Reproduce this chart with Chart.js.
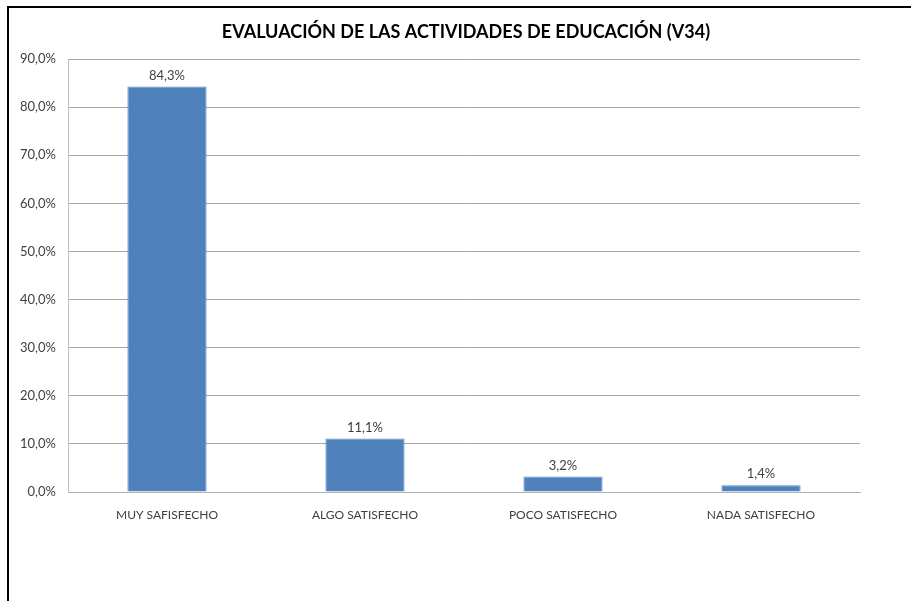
<!DOCTYPE html>
<html>
<head>
<meta charset="utf-8">
<script src="https://cdn.jsdelivr.net/npm/chart.js@4"></script>
<style>
html,body{margin:0;padding:0;background:#fff;}
#wrap{position:absolute;left:0;top:0;width:911px;height:601px;}
#frame{position:absolute;left:7px;top:6px;width:904px;height:595px;border-top:2px solid #000;border-left:2px solid #000;box-sizing:border-box;pointer-events:none;}
</style>
</head>
<body>
<div id="wrap"><canvas id="c" width="911" height="601"></canvas></div>
<div id="frame"></div>
<script>
const categories = ["MUY SAFISFECHO", "ALGO SATISFECHO", "POCO SATISFECHO", "NADA SATISFECHO"];
const values = [84.3, 11.1, 3.2, 1.4];
const titleText = "EVALUACIÓN DE LAS ACTIVIDADES DE EDUCACIÓN (V34)";
const FONT = "Lato";

const fmt = v => v.toFixed(1).replace('.', ',') + '%';

const labelPlugin = {
  id: 'barLabels',
  afterDatasetsDraw(chart) {
    const ctx = chart.ctx;
    const meta = chart.getDatasetMeta(0);
    ctx.save();
    ctx.font = "13px " + FONT;
    ctx.fillStyle = "#404040";
    ctx.textAlign = "center";
    ctx.textBaseline = "middle";
    meta.data.forEach((bar, i) => {
      ctx.fillText(fmt(values[i]), bar.x, bar.y - 11);
    });
    ctx.restore();
  }
};

const titlePlugin = {
  id: 'customTitle',
  afterDraw(chart) {
    const ctx = chart.ctx;
    ctx.save();
    ctx.font = "bold 18px " + FONT;
    ctx.fillStyle = "#000";
    ctx.textAlign = "center";
    ctx.textBaseline = "middle";
    ctx.fillText(titleText, 466, 32);
    ctx.restore();
  }
};

new Chart(document.getElementById('c'), {
  type: 'bar',
  data: {
    labels: categories,
    datasets: [{
      data: values,
      backgroundColor: '#4F81BD',
      borderColor: '#5B8CC6',
      borderWidth: 1,
      categoryPercentage: 1.0,
      barPercentage: 0.4
    }]
  },
  options: {
    responsive: false,
    animation: false,
    layout: { padding: { left: 0, right: 51, top: 59, bottom: 0 } },
    plugins: {
      legend: { display: false },
      tooltip: { enabled: false },
      title: { display: false }
    },
    scales: {
      x: {
        grid: { display: false, drawTicks: false },
        border: { display: true, color: '#B0B0B0' },
        ticks: { color: '#404040', font: { family: FONT, size: 12 }, padding: 16, maxRotation: 0 },
        afterFit(s) { s.height = 109; }
      },
      y: {
        min: 0, max: 90,
        ticks: { stepSize: 10, color: '#404040', font: { family: FONT, size: 13 }, padding: 12,
          callback: v => fmt(v) },
        grid: { color: '#A6A6A6', drawTicks: false },
        border: { display: true, color: '#C0C0C0' },
        afterFit(s) { s.width = 68; }
      }
    }
  },
  plugins: [labelPlugin, titlePlugin]
});
</script>
</body>
</html>
